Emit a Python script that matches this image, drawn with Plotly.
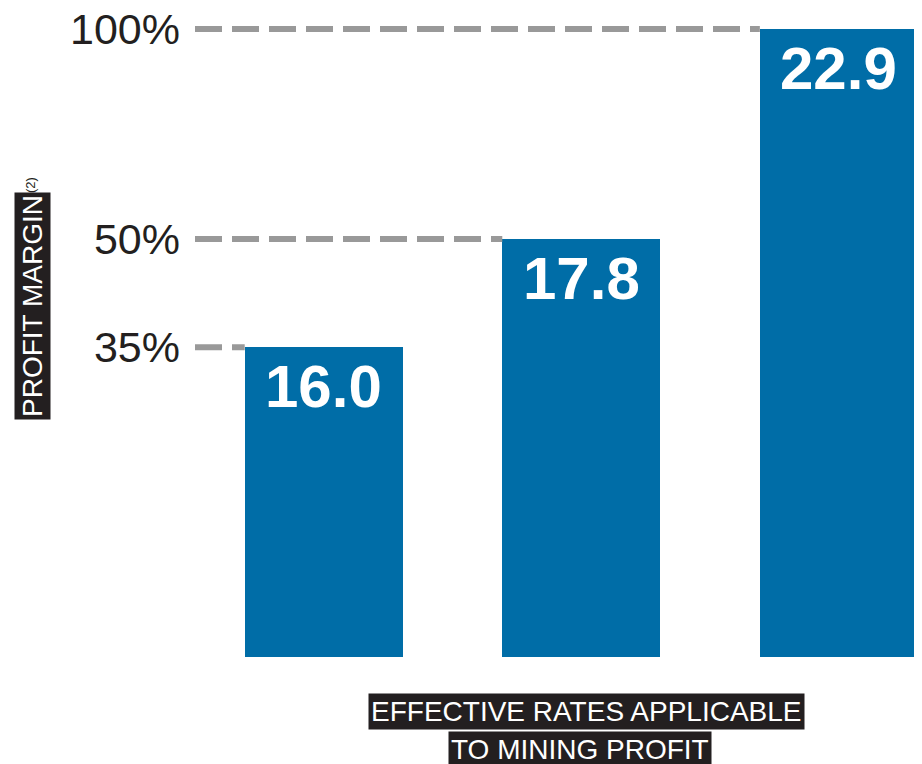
import math
import plotly.graph_objects as go

# Data
categories = ["A", "B", "C"]
profit_margin = [35, 50, 100]          # % profit margin (bar height)
effective_rate = [16.0, 17.8, 22.9]    # effective rate label
tick_vals = [35, 50, 100]
tick_text = ["35%", "50%", "100%"]

BLUE = "#006DA7"
GRAY = "#999999"
DARK = "#231F20"
BAR_W = 0.614
x_pos = list(range(len(categories)))
FONT = "Liberation Sans, Arial"

fig = go.Figure()

# dashed reference lines from axis to bar left edge
for i, v in enumerate(profit_margin):
    fig.add_trace(go.Scatter(
        x=[-0.5, x_pos[i] - BAR_W / 2], y=[v, v], mode="lines",
        line=dict(color=GRAY, width=6, dash="27px,10px"),
        hoverinfo="skip", showlegend=False))

fig.add_trace(go.Bar(
    x=x_pos, y=profit_margin, width=BAR_W, marker=dict(color=BLUE, line=dict(width=0)),
    showlegend=False, hoverinfo="skip"))

annotations = []
for i, (v, r) in enumerate(zip(profit_margin, effective_rate)):
    annotations.append(dict(
        x=x_pos[i], y=math.log10(v), xref="x", yref="y",
        text="<b>%.1f</b>" % r, showarrow=False, yanchor="top", xanchor="center",
        yshift=-4, font=dict(family=FONT, size=60, color="white")))

# plot area (figure px): left 187, width 723, top 7, height 642
def px_x(p):
    return (p - 8 - 187) / 723.0

def px_y(p):
    return (649 - (p - 8)) / 642.0

# axis titles
annotations.append(dict(
    x=px_x(32), y=px_y(306), xref="paper", yref="paper", text="PROFIT MARGIN",
    textangle=-90, showarrow=False, bgcolor=DARK, borderpad=2,
    xanchor="center", yanchor="middle",
    font=dict(family=FONT, size=28, color="white")))
annotations.append(dict(
    x=px_x(30), y=px_y(185), xref="paper", yref="paper", text="(2)",
    textangle=-90, showarrow=False, xanchor="center", yanchor="middle",
    font=dict(family=FONT, size=13, color=DARK)))
annotations.append(dict(
    x=px_x(586), y=px_y(711.5), xref="paper", yref="paper", text="EFFECTIVE RATES APPLICABLE",
    showarrow=False, bgcolor=DARK, borderpad=2, xanchor="center", yanchor="middle",
    font=dict(family=FONT, size=28, color="white")))
annotations.append(dict(
    x=px_x(580), y=px_y(749), xref="paper", yref="paper", text="TO MINING PROFIT",
    showarrow=False, bgcolor=DARK, borderpad=2, xanchor="center", yanchor="middle",
    font=dict(family=FONT, size=28, color="white")))

fig.update_layout(
    width=914, height=756,
    margin=dict(l=187, r=4, t=7, b=107, autoexpand=False),
    paper_bgcolor="white", plot_bgcolor="white",
    bargap=0,
    xaxis=dict(range=[-0.5, 2.307], showgrid=False, zeroline=False, showticklabels=False,
               showline=False, ticks="", automargin=False),
    yaxis=dict(type="log", range=[1.1, 2.02006], showgrid=False, zeroline=False,
               showline=False, ticks="", tickvals=tick_vals, ticktext=tick_text,
               ticklabelstandoff=14, ticklabeloverflow="allow", automargin=False,
               tickfont=dict(family=FONT, size=43, color=DARK)),
    annotations=annotations,
)

fig.write_html("out.html")
